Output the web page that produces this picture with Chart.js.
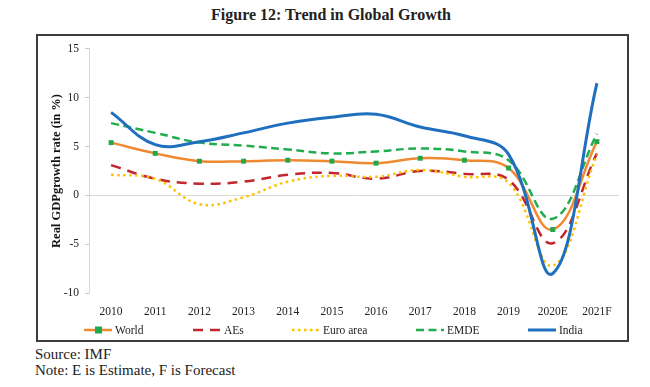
<!DOCTYPE html>
<html>
<head>
<meta charset="utf-8">
<script src="https://cdn.jsdelivr.net/npm/chart.js@4/dist/chart.umd.min.js"></script>
<style>
  body { margin: 0; background: #fff; width: 650px; height: 387px; position: relative; font-family: "Liberation Serif", "Times New Roman", serif; color: #222; }
  #title { position: absolute; left: 0; width: 662px; top: 6px; text-align: center; font-weight: bold; font-size: 16px; }
  #box { position: absolute; left: 36px; top: 34px; width: 589px; height: 304px; border: 2px solid #3c3c3c; }
  #box canvas { position: absolute; left: 0; top: 0; }
  .note { position: absolute; left: 35px; font-size: 15px; color: #222; }
</style>
</head>
<body>
<div id="title">Figure 12: Trend in Global Growth</div>
<div id="box"><canvas id="growthChart" width="589" height="304"></canvas></div>
<div class="note" style="top:346px">Source: IMF</div>
<div class="note" style="top:362px">Note: E is Estimate, F is Forecast</div>
<script>
// ---- data (real GDP growth, %) ----
const years    = ['2010','2011','2012','2013','2014','2015','2016','2017','2018','2019','2020E','2021F'];
const world    = [5.4, 4.3, 3.5, 3.5, 3.6, 3.5, 3.3, 3.8, 3.6, 2.8, -3.5, 5.5];
const aes      = [3.1, 1.7, 1.2, 1.4, 2.1, 2.3, 1.7, 2.5, 2.2, 1.6, -4.9, 4.3];
const euroArea = [2.1, 1.7, -0.9, -0.2, 1.4, 2.0, 1.9, 2.6, 1.9, 1.3, -7.2, 4.2];
const emde     = [7.4, 6.4, 5.4, 5.1, 4.7, 4.3, 4.5, 4.8, 4.5, 3.6, -2.4, 6.3];
const india    = [8.5, 5.2, 5.5, 6.4, 7.4, 8.0, 8.3, 7.0, 6.1, 4.2, -8.0, 11.5];
const yTicks   = [-10, -5, 0, 5, 10, 15];

const serif = '"Liberation Serif", "Times New Roman", serif';
const GREEN = '#21a84b';

// legend drawn by hand so the item spacing follows the original
const legendX = [46, 155, 254, 378, 490];
const customLegend = {
  id: 'customLegend',
  afterDraw(chart) {
    const ctx = chart.ctx;
    const y = 294;
    ctx.save();
    ctx.font = '11.5px ' + serif;
    ctx.textBaseline = 'middle';
    chart.data.datasets.forEach((ds, i) => {
      const x = legendX[i];
      ctx.strokeStyle = ds.borderColor;
      ctx.lineWidth = ds.borderWidth;
      ctx.setLineDash(ds.borderDash || []);
      ctx.beginPath();
      ctx.moveTo(x, y);
      ctx.lineTo(x + 28, y);
      ctx.stroke();
      ctx.setLineDash([]);
      if (ds.pointRadius) {
        ctx.fillStyle = ds.pointBackgroundColor;
        ctx.fillRect(x + 11, y - 3.5, 7, 7);
      }
      ctx.fillStyle = '#222';
      ctx.fillText(ds.label, x + 31, y + 1);
    });
    ctx.restore();
  }
};

new Chart(document.getElementById('growthChart'), {
  type: 'line',
  data: {
    labels: years,
    datasets: [
      { label: 'World', data: world, borderColor: '#f08a32', borderWidth: 2.5,
        pointStyle: 'rect', pointRadius: 3.5, pointBackgroundColor: GREEN, pointBorderWidth: 0, order: 5 },
      { label: 'AEs', data: aes, borderColor: '#c3262e', borderWidth: 2.5, borderDash: [10, 7],
        pointRadius: 0, order: 4 },
      { label: 'Euro area', data: euroArea, borderColor: '#ffc000', borderWidth: 2.5, borderDash: [2.5, 3.5],
        pointRadius: 0, order: 3 },
      { label: 'EMDE', data: emde, borderColor: '#21ad4d', borderWidth: 2.5, borderDash: [8, 4.5],
        pointRadius: 0, order: 2 },
      { label: 'India', data: india, borderColor: '#1f6fbf', borderWidth: 3,
        pointRadius: 0, order: 1 }
    ]
  },
  options: {
    responsive: false,
    animation: false,
    elements: { line: { tension: 0.4, fill: false } },
    layout: { padding: { top: 11, right: 8, left: 0, bottom: 0 } },
    plugins: { legend: { display: false }, tooltip: { enabled: false } },
    scales: {
      x: {
        offset: true,
        grid: { display: false },
        border: { display: false },
        ticks: { color: '#222', font: { family: serif, size: 11.5 }, padding: 4, maxRotation: 0 },
        afterFit: s => { s.height = 47; }
      },
      y: {
        min: -10, max: 15,
        afterBuildTicks: s => { s.ticks = yTicks.map(v => ({ value: v })); },
        grid: {
          color: c => c.tick && c.tick.value === 0 ? '#d9d9d9' : 'rgba(0,0,0,0)',
          tickColor: '#c8c8c8', tickLength: 4
        },
        border: { display: true, color: '#d9d9d9' },
        ticks: { color: '#222', font: { family: serif, size: 11.5 }, padding: 6 },
        title: { display: true, text: 'Real GDPgrowth rate (in %)', color: '#111',
                 font: { family: serif, size: 12.5, weight: 'bold' }, padding: { top: 11, bottom: 4 } },
        afterFit: s => { s.width = 51; }
      }
    }
  },
  plugins: [customLegend]
});
</script>
</body>
</html>
